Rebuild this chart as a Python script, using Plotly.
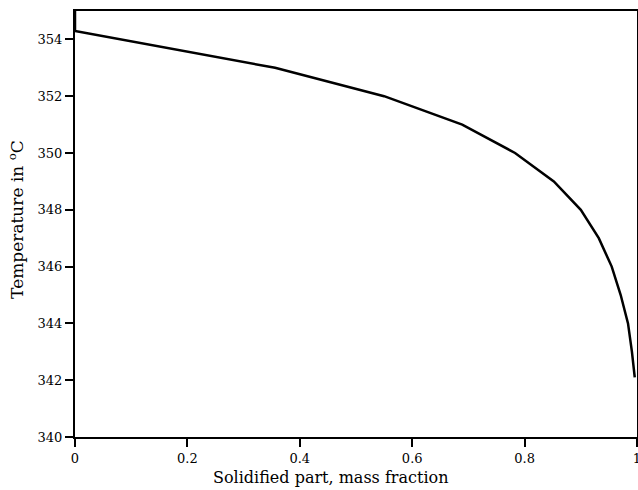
import plotly.graph_objects as go

frac = [0.0, 0.0, 0.356, 0.55, 0.689, 0.783, 0.852, 0.90, 0.932, 0.955, 0.971, 0.984, 0.991, 0.996]
temp = [355.0, 354.3, 353.0, 352.0, 351.0, 350.0, 349.0, 348.0, 347.0, 346.0, 345.0, 344.0, 343.0, 342.1]

xticks = [0, 0.2, 0.4, 0.6, 0.8, 1]
xticklabels = ["0", "0.2", "0.4", "0.6", "0.8", "1"]
yticks = [340, 342, 344, 346, 348, 350, 352, 354]

SERIF = "DejaVu Serif"

fig = go.Figure()
fig.add_trace(go.Scatter(x=frac, y=temp, mode="lines",
                         line=dict(color="black", width=2.5),
                         showlegend=False))

axis_common = dict(showline=True, linecolor="black", linewidth=2, mirror=True,
                   ticks="outside", tickcolor="black", tickwidth=2, ticklen=8,
                   showgrid=False, zeroline=False, automargin=False,
                   tickfont=dict(family=SERIF, size=13, color="black"))

fig.update_xaxes(range=[0, 1], tickvals=xticks, ticktext=xticklabels,
                 ticklabeloverflow="allow", **axis_common)
fig.update_yaxes(range=[340, 355], tickvals=yticks, **axis_common)

fig.add_annotation(text="Solidified part, mass fraction", xref="paper", yref="paper",
                   x=0.455, y=-0.094, xanchor="center", yanchor="middle", showarrow=False,
                   font=dict(family=SERIF, size=16, color="black"))
fig.add_annotation(text="Temperature in <sup>o</sup>C", xref="paper", yref="paper",
                   x=-0.105, y=0.512, xanchor="center", yanchor="middle", showarrow=False,
                   textangle=-90, font=dict(family=SERIF, size=17, color="black"))

fig.update_layout(width=638, height=490, margin=dict(l=75, r=1, t=11, b=53, autoexpand=False),
                  font=dict(family=SERIF, color="black"),
                  plot_bgcolor="white", paper_bgcolor="white")

fig.write_html("out.html")
